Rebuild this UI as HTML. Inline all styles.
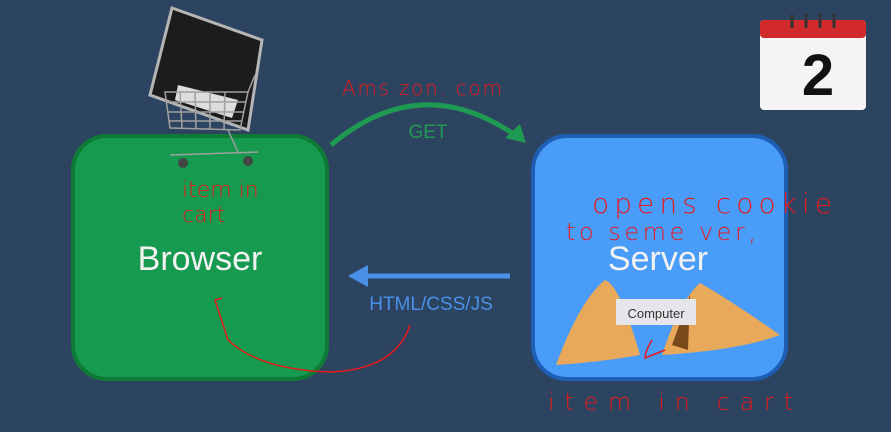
<!DOCTYPE html>
<html><head><meta charset="utf-8"><style>
html,body{margin:0;padding:0;background:#2d4461;}
svg{display:block}
</style></head><body>
<svg width="891" height="432" viewBox="0 0 891 432" xmlns="http://www.w3.org/2000/svg">
<rect width="891" height="432" fill="#2d4461"/>
<!-- Browser box -->
<rect x="73" y="136" width="254" height="243" rx="34" fill="#169a50" stroke="#0d7a36" stroke-width="4"/>
<text x="200" y="270" font-family="Liberation Sans, sans-serif" font-size="34" fill="#f2f2f2" text-anchor="middle">Browser</text>
<!-- Server box -->
<rect x="533" y="136" width="253" height="243" rx="34" fill="#4a9cf9" stroke="#1e5fb5" stroke-width="4"/>
<text x="658" y="270" font-family="Liberation Sans, sans-serif" font-size="34" fill="#f2f2f2" text-anchor="middle">Server</text>
<!-- fortune cookie -->
<path d="M556 365 Q580 300 605 280 Q620 285 640 355 Q600 362 556 365Z" fill="#e9a95a"/>
<path d="M662 355 Q680 300 700 283 Q730 300 780 335 Q740 350 662 355Z" fill="#e9a95a"/>
<path d="M672 345 L690 295 L688 350Z" fill="#7a4a1a"/>
<rect x="616" y="299" width="80" height="26" fill="#e6e6ea"/>
<text x="656" y="318" font-family="Liberation Sans, sans-serif" font-size="13" fill="#333" text-anchor="middle">Computer</text>
<!-- GET arrow -->
<path d="M331 145 Q420 70 515 135" fill="none" stroke="#1f9a52" stroke-width="5"/>
<polygon points="526,143 505,138 520,124" fill="#1f9a52"/>
<text x="428" y="138" font-family="Liberation Sans, sans-serif" font-size="19" fill="#1f9a52" text-anchor="middle">GET</text>
<!-- HTML arrow -->
<line x1="510" y1="276" x2="365" y2="276" stroke="#4a90e8" stroke-width="5"/>
<polygon points="348,276 368,265 368,287" fill="#4a90e8"/>
<text x="431" y="310" font-family="Liberation Sans, sans-serif" font-size="19" fill="#4a90e8" text-anchor="middle">HTML/CSS/JS</text>
<!-- calendar -->
<rect x="760" y="20" width="106" height="90" rx="4" fill="#f4f4f4"/>
<rect x="760" y="20" width="106" height="18" rx="4" fill="#d22a2a"/>
<g stroke="#333" stroke-width="3"><line x1="792" y1="14" x2="792" y2="28"/><line x1="806" y1="14" x2="806" y2="28"/><line x1="820" y1="14" x2="820" y2="28"/><line x1="834" y1="14" x2="834" y2="28"/></g>
<text x="818" y="95" font-family="Liberation Sans, sans-serif" font-size="58" font-weight="bold" fill="#111" text-anchor="middle">2</text>
<!-- monitor -->
<polygon points="172,8 262,40 248,130 150,95" fill="#1c1c1c" stroke="#b5b5b5" stroke-width="3"/>
<polygon points="178,85 238,100 232,118 175,100" fill="#ddd"/>
<!-- cart -->
<g stroke="#a0a0a0" stroke-width="1.5" fill="none">
<polygon points="165,92 248,92 240,130 170,128"/>
<line x1="167" y1="102" x2="246" y2="102"/><line x1="168" y1="112" x2="244" y2="112"/><line x1="169" y1="121" x2="242" y2="121"/>
<line x1="180" y1="92" x2="182" y2="128"/><line x1="195" y1="92" x2="196" y2="129"/><line x1="210" y1="92" x2="210" y2="129"/><line x1="225" y1="92" x2="224" y2="129"/>
<line x1="228" y1="130" x2="238" y2="152"/>
<line x1="170" y1="155" x2="258" y2="152"/>
<line x1="248" y1="92" x2="255" y2="75"/>
</g>
<circle cx="183" cy="163" r="5" fill="#444"/><circle cx="248" cy="161" r="5" fill="#444"/>
<!-- red handwriting -->
<g fill="none" stroke="#e8191a" stroke-width="1.5">
<path d="M222 298 L215 300 L228 340 Q260 370 330 372 Q395 370 410 325"/>
<path d="M652 340 Q645 352 645 358 L665 350"/>
</g>
<g fill="#e8191a" font-family="DejaVu Sans, sans-serif" font-weight="300">
<text x="342" y="95" font-size="20" textLength="160">Ams zon. com</text>
<text x="182" y="197" font-size="22">item in</text>
<text x="182" y="222" font-size="22">cart</text>
<text x="592" y="213" font-size="28" textLength="240">opens cookie</text>
<text x="566" y="240" font-size="24" textLength="190">to seme ver,</text>
<text x="548" y="410" font-size="24" textLength="245">item in  cart</text>
</g>
</svg>
</body></html>
